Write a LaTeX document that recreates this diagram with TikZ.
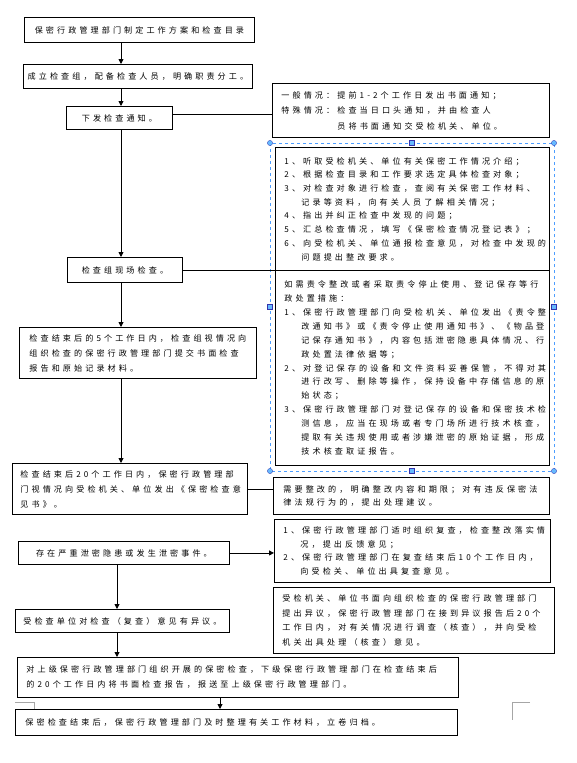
\documentclass[tikz,border=0pt]{standalone}
\usepackage{fontspec}
\newfontfamily\cjk[LetterSpace=38]{Noto Sans CJK SC}
\usetikzlibrary{arrows.meta}
\setlength{\parindent}{0pt}
\begin{document}
\begin{tikzpicture}[x=1pt,y=-1pt,
  box/.style={draw, line width=0.9pt, anchor=north west, inner sep=0pt,
    font=\cjk\fontsize{8.1}{14}\selectfont},
  lbox/.style={box, align=left},
  lsp/.style={font=\cjk\fontsize{8.1}{#1}\selectfont},
  arr/.style={-{Triangle[length=5pt,width=5pt]}, line width=0.9pt},
  ln/.style={line width=0.9pt},
  selc/.style={draw=blue!55!cyan!70!white, line width=0.6pt, dashed},
  hnd/.style={fill=blue!45!cyan!60!white, draw=blue!60!black!80!white, line width=0.3pt},
  cmark/.style={draw=gray!70, line width=0.6pt}]
\useasboundingbox (0,0) rectangle (576,763);

% selection frame
\draw[selc] (270,143) rectangle (554,471);

% boxes
\node[box, minimum width=230, minimum height=25] (b1) at (24,17) {保密行政管理部门制定工作方案和检查目录};
\node[box, minimum width=229, minimum height=24] (b2) at (23,64) {成立检查组，配备检查人员，明确职责分工。};
\node[box, minimum width=106, minimum height=23] (b3) at (66,106) {下发检查通知。};
\node[lbox, lsp=15.5, minimum height=54, text width=259, inner xsep=9] (notice) at (272,83)
  {一般情况：提前1-2个工作日发出书面通知；\\
   特殊情况：检查当日口头通知，并由检查人\\
   \hspace*{56pt}员将书面通知交受检机关、单位。};
\node[box, minimum width=115, minimum height=25] (b4) at (67,257) {检查组现场检查。};
\node[lbox, lsp=13.7, minimum height=123, text width=256, inner xsep=9] (bigtop) at (275,147)
  {1、听取受检机关、单位有关保密工作情况介绍；\\
   2、根据检查目录和工作要求选定具体检查对象；\\
   3、对检查对象进行检查，查阅有关保密工作材料、\\
   \hspace*{17pt}记录等资料，向有关人员了解相关情况；\\
   4、指出并纠正检查中发现的问题；\\
   5、汇总检查情况，填写《保密检查情况登记表》；\\
   6、向受检机关、单位通报检查意见，对检查中发现的\\
   \hspace*{17pt}问题提出整改要求。};
\node[lbox, lsp=13.9, minimum height=195, text width=256, inner xsep=9] (bigbot) at (275,270)
  {如需责令整改或者采取责令停止使用、登记保存等行\\
   政处置措施：\\
   1、保密行政管理部门向受检机关、单位发出《责令整\\
   \hspace*{17pt}改通知书》或《责令停止使用通知书》、《物品登\\
   \hspace*{17pt}记保存通知书》，内容包括泄密隐患具体情况、行\\
   \hspace*{17pt}政处置法律依据等；\\
   2、对登记保存的设备和文件资料妥善保管，不得对其\\
   \hspace*{17pt}进行改写、删除等操作，保持设备中存储信息的原\\
   \hspace*{17pt}始状态；\\
   3、保密行政管理部门对登记保存的设备和保密技术检\\
   \hspace*{17pt}测信息，应当在现场或者专门场所进行技术核查，\\
   \hspace*{17pt}提取有关违规使用或者涉嫌泄密的原始证据，形成\\
   \hspace*{17pt}技术核查取证报告。};
\node[lbox, lsp=15, minimum height=51, text width=217, inner xsep=10] (b5) at (19,327)
  {检查结束后的5个工作日内，检查组视情况向\\
   组织检查的保密行政管理部门提交书面检查\\
   报告和原始记录材料。};
\node[lbox, lsp=15, minimum height=51, text width=219, inner xsep=8] (b6) at (12,463)
  {检查结束后20个工作日内，保密行政管理部\\
   门视情况向受检机关、单位发出《保密检查意\\
   见书》。};
\node[lbox, lsp=12.5, minimum height=37, text width=256, inner xsep=10] (b7) at (273,477)
  {需要整改的，明确整改内容和期限；对有违反保密法\\
   律法规行为的，提出处理建议。};
\node[lbox, lsp=13.4, minimum height=63, text width=258, inner xsep=9] (b8) at (274,519)
  {1、保密行政管理部门适时组织复查，检查整改落实情\\
   \hspace*{17pt}况，提出反馈意见；\\
   2、保密行政管理部门在复查结束后10个工作日内，\\
   \hspace*{17pt}向受检关、单位出具复查意见。};
\node[box, minimum width=211, minimum height=23] (b9) at (18,541) {存在严重泄密隐患或发生泄密事件。};
\node[box, minimum width=214, minimum height=23] (b10) at (15,609) {受检查单位对检查（复查）意见有异议。};
\node[lbox, lsp=14.7, minimum height=66, text width=263, inner xsep=9] (b11) at (273,587)
  {受检机关、单位书面向组织检查的保密行政管理部门\\
   提出异议，保密行政管理部门在接到异议报告后20个\\
   工作日内，对有关情况进行调查（核查），并向受检\\
   机关出具处理（核查）意见。};
\node[lbox, lsp=15, minimum height=40, text width=423, inner xsep=9] (b12) at (17,657)
  {对上级保密行政管理部门组织开展的保密检查，下级保密行政管理部门在检查结束后\\
   的20个工作日内将书面检查报告，报送至上级保密行政管理部门。};
\node[lbox, minimum height=26, text width=422, inner xsep=10] (b13) at (15,709)
  {保密检查结束后，保密行政管理部门及时整理有关工作材料，立卷归档。};

% spine coordinates
\coordinate (sp) at (121,0);
\coordinate (sq) at (117,0);
\coordinate (sr) at (220,0);
\coordinate (ya) at (0,114);

% connectors
\draw[arr] (sp |- b1.south) -- (sp |- b2.north);
\draw[arr] (sp |- b2.south) -- (sp |- b3.north);
\draw[arr] (sp |- b3.south) -- (sp |- b4.north);
\draw[arr] (sp |- b4.south) -- (sp |- b5.north);
\draw[arr] (sp |- b5.south) -- (sp |- b6.north);
\draw[ln] (b3.east |- ya) -- (notice.west |- ya);
\draw[ln] (b4.east) -- (b4.east -| bigtop.west);
\draw[ln] (b6.east) -- (b6.east -| b7.west);
\draw[arr] (b9.east) -- (b9.east -| b8.west);
\draw[arr] (sq |- b9.south) -- (sq |- b10.north);
\draw[arr] (sq |- b10.south) -- (sq |- b12.north);
\draw[arr] (sr |- b12.south) -- (sr |- b13.north);

% selection handles
\foreach \p in {(270,143),(554,143),(270,471),(554,471)} \draw[hnd] \p circle (2.6);
\foreach \p in {(412,143),(270,307),(554,307),(412,471)} \draw[hnd] \p ++(-2.6,-2.6) rectangle ++(5.2,5.2);

% page corner marks
\draw[cmark] (15,702) -- (34,702) -- (34,709);
\draw[cmark] (530,702) -- (512,702) -- (512,720);
\end{tikzpicture}
\end{document}
